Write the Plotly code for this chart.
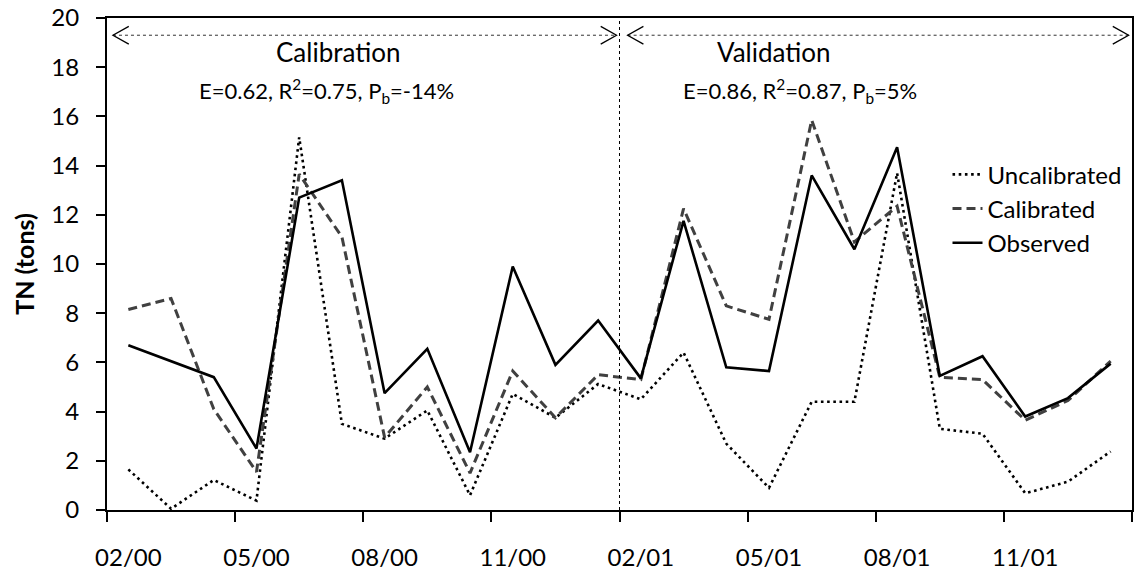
import plotly.graph_objects as go

# ---- data ----
months = ["2000-02", "2000-03", "2000-04", "2000-05", "2000-06", "2000-07", "2000-08",
          "2000-09", "2000-10", "2000-11", "2000-12", "2001-01", "2001-02", "2001-03",
          "2001-04", "2001-05", "2001-06", "2001-07", "2001-08", "2001-09", "2001-10",
          "2001-11", "2001-12", "2002-01"]
uncalibrated = [1.65, 0.05, 1.22, 0.38, 15.15, 3.5, 2.9, 4.05, 0.6, 4.72, 3.75, 5.12,
                4.5, 6.4, 2.7, 0.9, 4.4, 4.4, 13.7, 3.3, 3.1, 0.68, 1.15, 2.38]
calibrated = [8.15, 8.6, 4.1, 1.55, 13.65, 11.1, 2.95, 5.0, 1.5, 5.65, 3.75, 5.5,
              5.3, 12.25, 8.3, 7.75, 15.85, 10.9, 12.35, 5.4, 5.3, 3.65, 4.45, 6.05]
observed = [6.7, 6.05, 5.4, 2.5, 12.7, 13.4, 4.75, 6.55, 2.35, 9.9, 5.9, 7.7,
            5.35, 11.75, 5.8, 5.65, 13.6, 10.6, 14.75, 5.45, 6.25, 3.8, 4.55, 5.95]
tick_labels = ["02/00", "05/00", "08/00", "11/00", "02/01", "05/01", "08/01", "11/01"]
n_calibration = 12  # first 12 months are calibration period

x = list(range(len(months)))
tick_pos = list(range(0, len(months), 3))
tick_marks = [p - 0.5 for p in range(0, len(months) + 1, 3)]
split = n_calibration - 0.5
x_lo, x_hi = -0.5, len(months) - 0.5

FONT = "Lato"

fig = go.Figure()
fig.add_trace(go.Scatter(x=x, y=uncalibrated, mode="lines", name="Uncalibrated",
                         line=dict(color="black", width=2.6, dash="2.6px,3.6px")))
fig.add_trace(go.Scatter(x=x, y=calibrated, mode="lines", name="Calibrated",
                         line=dict(color="#404040", width=3, dash="9px,5px")))
fig.add_trace(go.Scatter(x=x, y=observed, mode="lines", name="Observed",
                         line=dict(color="black", width=2.6)))

shapes = []
# vertical divider
shapes.append(dict(type="line", xref="x", yref="y", x0=split, x1=split, y0=0, y1=20,
                   line=dict(color="black", width=1, dash="dot")))
# period arrows
arrow_y = 19.3
dxh, dyh = 0.37, 0.36
for a, b in [(x_lo + 0.14, split - 0.07), (split + 0.19, x_hi - 0.08)]:
    shapes.append(dict(type="line", xref="x", yref="y", x0=a, x1=b, y0=arrow_y, y1=arrow_y,
                       line=dict(color="#333333", width=1, dash="dot")))
    shapes.append(dict(type="path", xref="x", yref="y",
                       path=f"M{a+dxh},{arrow_y+dyh} L{a},{arrow_y} L{a+dxh},{arrow_y-dyh}",
                       line=dict(color="black", width=1.3)))
    shapes.append(dict(type="path", xref="x", yref="y",
                       path=f"M{b-dxh},{arrow_y+dyh} L{b},{arrow_y} L{b-dxh},{arrow_y-dyh}",
                       line=dict(color="black", width=1.3)))

title_font = dict(family=FONT, size=26, color="black")
stat_font = dict(family=FONT, size=22, color="black")
annotations = [
    dict(x=4.92, y=18.6, xref="x", yref="y", text="Calibration", showarrow=False, font=title_font),
    dict(x=4.64, y=17.05, xref="x", yref="y",
         text="E=0.62, R<sup>2</sup>=0.75, P<sub>b</sub>=-14%", showarrow=False, font=stat_font),
    dict(x=15.12, y=18.6, xref="x", yref="y", text="Validation", showarrow=False, font=title_font),
    dict(x=15.73, y=17.05, xref="x", yref="y",
         text="E=0.86, R<sup>2</sup>=0.87, P<sub>b</sub>=5%", showarrow=False, font=stat_font),
]

fig.update_layout(
    width=1136, height=573,
    margin=dict(l=107, r=2, t=16, b=61),
    paper_bgcolor="white", plot_bgcolor="white",
    font=dict(family=FONT, size=24, color="black"),
    shapes=shapes, annotations=annotations,
    showlegend=True,
    legend=dict(x=0.82, y=0.727, xanchor="left", yanchor="top",
                bgcolor="rgba(0,0,0,0)", font=dict(family=FONT, size=24),
                tracegroupgap=0, itemwidth=30),
    xaxis=dict(range=[x_lo, x_hi], tickmode="array", tickvals=tick_pos, ticktext=tick_labels,
               ticks="", showgrid=False, zeroline=False,
               showline=True, linecolor="black", linewidth=2, mirror=True,
               ticklabelstandoff=25,
               tickfont=dict(family=FONT, size=24),
               minor=dict(tickmode="array", tickvals=tick_marks, ticks="outside",
                          ticklen=10, tickwidth=2, tickcolor="black", showgrid=False)),
    yaxis=dict(range=[0, 20], tickmode="linear", tick0=0, dtick=2,
               ticks="outside", ticklen=9, tickwidth=2, tickcolor="black",
               showgrid=False, zeroline=False,
               showline=True, linecolor="black", linewidth=2, mirror=True,
               ticklabelstandoff=12,
               tickfont=dict(family=FONT, size=24),
               title=dict(text="<b>TN (tons)</b>", font=dict(family=FONT, size=25), standoff=10)),
)

fig.write_html("out.html")
